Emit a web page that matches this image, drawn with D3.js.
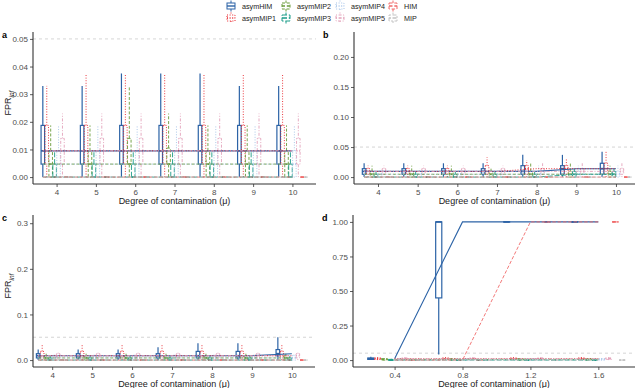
<!DOCTYPE html>
<html>
<head>
<meta charset="utf-8">
<script src="https://cdn.jsdelivr.net/npm/d3@7"></script>
<style>
  body { margin: 0; background: #fff; }
  svg { font-family: "Liberation Sans", Arial, sans-serif; }
</style>
</head>
<body>
<svg id="chart" width="640" height="388"></svg>
<script>
const groups = ["asymHIM", "asymMIP1", "asymMIP2", "asymMIP3", "asymMIP4", "asymMIP5", "HIM", "MIP"];
const groupColors = ["#2c63a6", "#e8242b", "#6a9c3a", "#1a9c88", "#a5c3e8", "#e3a3bb", "#f06a6a", "#c4c4c4"];
const groupDash = [null, "1,1.6", "3,1.8", "5,1.8", "1,1.6", "1,1.6,3,1.6", "3.5,1.8", "2,1.5,4,1.5"];

const muHigh = [4, 5, 6, 7, 8, 9, 10];
const muLow = [0.4, 0.8, 1.2, 1.6];

// five-number summaries [low whisker, q1, median, q3, high whisker], one row per mu
const boxA = [
  [[0, .0047, .0095, .0187, .033], [0, .0047, .0095, .0187, .033], [0, .0047, .0095, .0187, .0375], [0, .0047, .0095, .0187, .0375], [0, .0047, .0095, .0187, .0375], [0, .0047, .0095, .0187, .033], [0, .0047, .0095, .0187, .033]],
  [[0, .0047, .0095, .0187, .033], [0, .0047, .0095, .0187, .0375], [0, .0047, .0095, .0187, .0375], [0, .0047, .0095, .0187, .0375], [0, .0047, .0095, .0187, .0375], [0, .0047, .0095, .0187, .0375], [0, .0047, .0095, .0187, .0375]],
  [[0, 0, .0047, .0095, .0187], [0, 0, .0047, .0095, .0187], [0, .0047, .0047, .014, .033], [0, .0047, .0047, .0105, .023], [0, 0, .0047, .0095, .0187], [0, 0, .0047, .0095, .0187], [0, 0, .0047, .0095, .0187]],
  [[0, 0, 0, .0047, .0095], [0, 0, 0, .0047, .0095], [0, 0, 0, .0047, .0095], [0, 0, 0, .0047, .0095], [0, 0, 0, .0047, .0095], [0, 0, 0, .0047, .0095], [0, 0, 0, .0047, .0095]],
  [[0, 0, .0047, .0095, .0187], [0, 0, .0047, .0095, .0187], [0, 0, .0047, .0095, .0187], [0, 0, .0047, .0095, .0187], [0, 0, .0047, .0095, .0187], [0, 0, .0047, .0095, .0187], [0, 0, .0047, .0095, .0187]],
  [[0, .0047, .0095, .014, .023], [0, .0047, .0095, .014, .023], [0, .0047, .0095, .014, .023], [0, .0047, .0095, .014, .023], [0, .0047, .0095, .014, .023], [0, .0047, .0095, .014, .023], [0, .0047, .0095, .014, .023]],
  [[0, 0, 0, 0, 0], [0, 0, 0, 0, 0], [0, 0, 0, 0, 0], [0, 0, 0, 0, 0], [0, 0, 0, 0, 0], [0, 0, 0, 0, 0], [0, 0, 0, 0, 0]],
  [[0, 0, 0, 0, 0], [0, 0, 0, 0, 0], [0, 0, 0, 0, 0], [0, 0, 0, 0, 0], [0, 0, 0, 0, 0], [0, 0, 0, 0, 0], [0, 0, 0, 0, 0]]
];

const boxB = [
  [[0, .0047, .0095, .014, .023], [0, .0047, .0095, .014, .023], [0, .0047, .0095, .014, .023], [0, .0047, .0095, .014, .023], [0, .0047, .0095, .019, .037], [0, .0047, .014, .019, .037], [0, .0047, .014, .023, .042]],
  [[0, .0047, .0095, .014, .019], [0, .0047, .0095, .014, .019], [0, .0047, .0095, .014, .019], [0, .0047, .0095, .019, .033], [0, .0047, .014, .019, .028], [0, .0047, .014, .019, .030], [0, .0047, .014, .023, .042]],
  [[0, 0, .0047, .0095, .019], [0, 0, .0047, .0095, .019], [0, 0, .0047, .0095, .019], [0, 0, .0047, .0095, .014], [0, 0, .0047, .0095, .023], [0, 0, .0047, .0095, .023], [0, 0, .0047, .0095, .019]],
  [[0, 0, 0, .0047, .0095], [0, 0, 0, .0047, .0095], [0, 0, 0, .0047, .0095], [0, 0, 0, .0047, .0095], [0, 0, 0, .0047, .0095], [0, 0, .0047, .0095, .014], [0, 0, .0047, .0095, .014]],
  [[0, 0, .0047, .0095, .014], [0, 0, .0047, .0095, .014], [0, 0, .0047, .0095, .014], [0, 0, .0047, .0095, .014], [0, 0, .0047, .0095, .019], [0, 0, .0047, .0095, .019], [0, 0, .0047, .0095, .019]],
  [[0, .0047, .0095, .014, .019], [0, .0047, .0095, .014, .019], [0, .0047, .0095, .014, .019], [0, .0047, .0095, .014, .019], [0, .0047, .0095, .014, .023], [0, .0047, .0095, .014, .023], [0, .0047, .0095, .014, .023]],
  [[0, 0, 0, 0, 0], [0, 0, 0, 0, 0], [0, 0, 0, 0, 0], [0, 0, 0, 0, 0], [0, 0, 0, 0, 0], [0, 0, 0, 0, 0], [0, 0, 0, 0, 0]],
  [[0, 0, 0, 0, 0], [0, 0, 0, 0, 0], [0, 0, 0, 0, 0], [0, 0, 0, 0, 0], [0, 0, 0, 0, 0], [0, 0, 0, 0, 0], [0, 0, 0, 0, 0]]
];

const boxC = [
  [[0, .0047, .0095, .014, .023], [0, .0047, .0095, .014, .023], [0, .0047, .0095, .014, .023], [0, .0047, .0095, .014, .028], [0, .0047, .0095, .019, .037], [0, .0047, .0095, .019, .037], [0, .0095, .014, .023, .05]],
  [[0, .0047, .0095, .019, .033], [0, .0047, .0095, .019, .033], [0, .0047, .0095, .019, .033], [0, .0047, .0095, .019, .033], [0, .0047, .0095, .019, .033], [0, .0047, .0095, .019, .033], [0, .0047, .0095, .019, .033]],
  [[0, 0, .0047, .0095, .014], [0, 0, .0047, .0095, .014], [0, 0, .0047, .0095, .014], [0, 0, .0047, .0095, .014], [0, 0, .0047, .0095, .014], [0, 0, .0047, .0095, .014], [0, 0, .0047, .0095, .014]],
  [[0, 0, 0, .0047, .0095], [0, 0, 0, .0047, .0095], [0, 0, 0, .0047, .0095], [0, 0, 0, .0047, .0095], [0, 0, 0, .0047, .0095], [0, 0, 0, .0047, .0095], [0, 0, 0, .0047, .0095]],
  [[0, 0, .0047, .0095, .014], [0, 0, .0047, .0095, .014], [0, 0, .0047, .0095, .014], [0, 0, .0047, .0095, .014], [0, 0, .0047, .0095, .014], [0, 0, .0047, .0095, .014], [0, 0, .0047, .0095, .014]],
  [[0, .0047, .0095, .014, .019], [0, .0047, .0095, .014, .019], [0, .0047, .0095, .014, .019], [0, .0047, .0095, .014, .019], [0, .0047, .0095, .014, .019], [0, .0047, .0095, .014, .019], [0, .0047, .0095, .014, .019]],
  [[0, 0, 0, 0, 0], [0, 0, 0, 0, 0], [0, 0, 0, 0, 0], [0, 0, 0, 0, 0], [0, 0, 0, 0, 0], [0, 0, 0, 0, 0], [0, 0, 0, 0, 0]],
  [[0, 0, 0, 0, 0], [0, 0, 0, 0, 0], [0, 0, 0, 0, 0], [0, 0, 0, 0, 0], [0, 0, 0, 0, 0], [0, 0, 0, 0, 0], [0, 0, 0, 0, 0]]
];

const boxD = [
  [[0, .005, .01, .015, .025], [.04, .45, 1, 1, 1], [1, 1, 1, 1, 1], [1, 1, 1, 1, 1]],
  [[0, .005, .01, .015, .02], [0, .005, .01, .015, .02], [0, .005, .01, .015, .02], [0, .005, .01, .015, .02]],
  [[0, 0, .005, .01, .015], [0, 0, .005, .01, .015], [0, 0, .005, .01, .015], [0, 0, .005, .01, .015]],
  [[0, 0, 0, .005, .01], [0, 0, 0, .005, .01], [0, 0, 0, .005, .01], [0, 0, 0, .005, .01]],
  [[0, 0, .005, .01, .015], [0, 0, .005, .01, .015], [0, 0, .005, .01, .015], [0, 0, .005, .01, .015]],
  [[0, .005, .01, .015, .02], [0, .005, .01, .015, .02], [0, .005, .01, .015, .02], [0, .005, .01, .015, .02]],
  [[0, 0, 0, 0, 0], [0, 0, 0, 0, 0], [1, 1, 1, 1, 1], [1, 1, 1, 1, 1]],
  [[0, 0, 0, 0, 0], [0, 0, 0, 0, 0], [0, 0, 0, 0, 0], [0, 0, 0, 0, 0]]
];

const threshold = 0.05;

const svg = d3.select("#chart");

const panels = [
  {tag: "a", mu: muHigh, box: boxA, step: 1, shiftStart: true, yTitle: true,
   x0: 33, x1: 316, y0: 32, y1: 184, xdom: [3.4, 10.6], ydom: [-0.0025, 0.0525],
   yticks: [0, .01, .02, .03, .04, .05], yfmt: ".2f", xticks: muHigh, xfmt: "d"},
  {tag: "b", mu: muHigh, box: boxB, step: 1, shiftStart: true, yTitle: false,
   x0: 354, x1: 635, y0: 32, y1: 184, xdom: [3.395, 10.48], ydom: [-0.0115, 0.2415],
   yticks: [0, .05, .1, .15, .2], yfmt: ".2f", xticks: muHigh, xfmt: "d"},
  {tag: "c", mu: muHigh, box: boxC, step: 1, shiftStart: true, yTitle: true,
   x0: 33, x1: 315, y0: 215, y1: 367, xdom: [3.52, 10.58], ydom: [-0.0152, 0.318],
   yticks: [0, .1, .2, .3], yfmt: ".1f", xticks: muHigh, xfmt: "d"},
  {tag: "d", mu: muLow, box: boxD, step: 0.4, shiftStart: false, yTitle: false,
   x0: 353, x1: 635, y0: 215, y1: 367, xdom: [0.155, 1.816], ydom: [-0.05, 1.05],
   yticks: [0, .25, .5, .75, 1], yfmt: ".2f", xticks: muLow, xfmt: ".1f"}
];

function drawPanel(p) {
  const g = svg.append("g");
  const x = d3.scaleLinear().domain(p.xdom).range([p.x0, p.x1]);
  const y = d3.scaleLinear().domain(p.ydom).range([p.y1, p.y0]);

  // threshold line
  g.append("line")
    .attr("x1", p.x0).attr("x2", p.x1)
    .attr("y1", y(threshold)).attr("y2", y(threshold))
    .attr("stroke", "#d0d0d0").attr("stroke-width", 0.9)
    .attr("stroke-dasharray", "3,3");

  const halfW = 0.045 * p.step;

  groups.forEach((name, gi) => {
    const off = (gi - 3.5) * 0.1 * p.step;
    const sw = gi === 0 ? 1.2 : 0.9;
    const bg = g.append("g")
      .attr("stroke", groupColors[gi])
      .attr("stroke-dasharray", groupDash[gi])
      .attr("fill", "none");
    p.box[gi].forEach((s, ci) => {
      const cx = x(p.mu[ci] + off);
      const w = x(p.mu[ci] + off + halfW) - cx;
      bg.append("line").attr("x1", cx).attr("x2", cx).attr("y1", y(s[0])).attr("y2", y(s[1])).attr("stroke-width", sw);
      bg.append("line").attr("x1", cx).attr("x2", cx).attr("y1", y(s[3])).attr("y2", y(s[4])).attr("stroke-width", sw);
      bg.append("rect")
        .attr("x", cx - w).attr("width", 2 * w)
        .attr("y", y(s[3])).attr("height", Math.max(0.01, y(s[1]) - y(s[3])))
        .attr("stroke-width", sw);
      bg.append("line").attr("x1", cx - w).attr("x2", cx + w).attr("y1", y(s[2])).attr("y2", y(s[2])).attr("stroke-width", 1.7);
    });
  });

  // median lines
  groups.forEach((name, gi) => {
    const pts = p.box[gi].map((s, ci) => {
      const mx = (ci === 0 && p.shiftStart) ? p.mu[ci] - 0.35 * p.step : p.mu[ci];
      return [mx, s[2]];
    });
    g.append("path")
      .datum(pts)
      .attr("d", d3.line().x(d => x(d[0])).y(d => y(d[1])))
      .attr("fill", "none")
      .attr("stroke", groupColors[gi])
      .attr("stroke-width", gi === 0 ? 1.1 : 0.9)
      .attr("stroke-dasharray", groupDash[gi]);
  });

  // axes
  const xa = g.append("g").attr("transform", `translate(0,${p.y1})`)
    .call(d3.axisBottom(x).tickValues(p.xticks).tickFormat(d3.format(p.xfmt)).tickSize(3).tickPadding(2));
  const ya = g.append("g").attr("transform", `translate(${p.x0},0)`)
    .call(d3.axisLeft(y).tickValues(p.yticks).tickFormat(d3.format(p.yfmt)).tickSize(3).tickPadding(2));
  [xa, ya].forEach(a => {
    a.select(".domain").attr("stroke", "#333").attr("stroke-width", 1.1);
    a.selectAll(".tick line").attr("stroke", "#333").attr("stroke-width", 0.8);
    a.selectAll(".tick text").attr("fill", "#4d4d4d").style("font-size", "8px")
      .style("font-family", "'Liberation Sans', Arial, sans-serif");
  });
  xa.select(".domain").attr("d", `M${p.x0},0H${p.x1}`);
  ya.select(".domain").attr("d", `M0,${p.y0}V${p.y1}`);

  g.append("text")
    .attr("x", (p.x0 + p.x1) / 2).attr("y", p.y1 + 20)
    .attr("text-anchor", "middle").attr("font-size", 9).attr("fill", "#222")
    .text("Degree of contamination (μ)");

  if (p.yTitle) {
    const t = g.append("text")
      .attr("transform", `translate(${p.x0 - 22},${(p.y0 + p.y1) / 2 - 5}) rotate(-90)`)
      .attr("text-anchor", "middle").attr("font-size", 9).attr("fill", "#222");
    t.append("tspan").text("FPR");
    t.append("tspan").attr("font-size", 6.5).attr("dy", 2.5).attr("font-style", "italic").text("inf");
  }

  svg.append("text")
    .attr("x", p.x0 - 31).attr("y", p.y0 + 6)
    .attr("font-size", 9).attr("font-weight", "bold").attr("fill", "#000")
    .text(p.tag);
}

panels.forEach(drawPanel);

// legend
const legendCols = [231, 286, 340, 393];
const legendRows = [6, 18];
groups.forEach((name, gi) => {
  const kx = legendCols[Math.floor(gi / 2)];
  const ky = legendRows[gi % 2];
  const lg = svg.append("g")
    .attr("stroke", groupColors[gi])
    .attr("stroke-dasharray", groupDash[gi])
    .attr("fill", "none")
    .attr("stroke-width", 1);
  lg.append("line").attr("x1", kx).attr("x2", kx).attr("y1", ky - 5.5).attr("y2", ky - 3);
  lg.append("line").attr("x1", kx).attr("x2", kx).attr("y1", ky + 3).attr("y2", ky + 5.5);
  lg.append("rect").attr("x", kx - 4).attr("y", ky - 3).attr("width", 8).attr("height", 6);
  lg.append("line").attr("x1", kx - 4).attr("x2", kx + 4).attr("y1", ky).attr("y2", ky).attr("stroke-width", 1.4);
  svg.append("text")
    .attr("x", kx + 11).attr("y", ky + 2.5)
    .attr("font-size", 7.2).attr("fill", "#222")
    .text(name);
});
</script>
</body>
</html>
